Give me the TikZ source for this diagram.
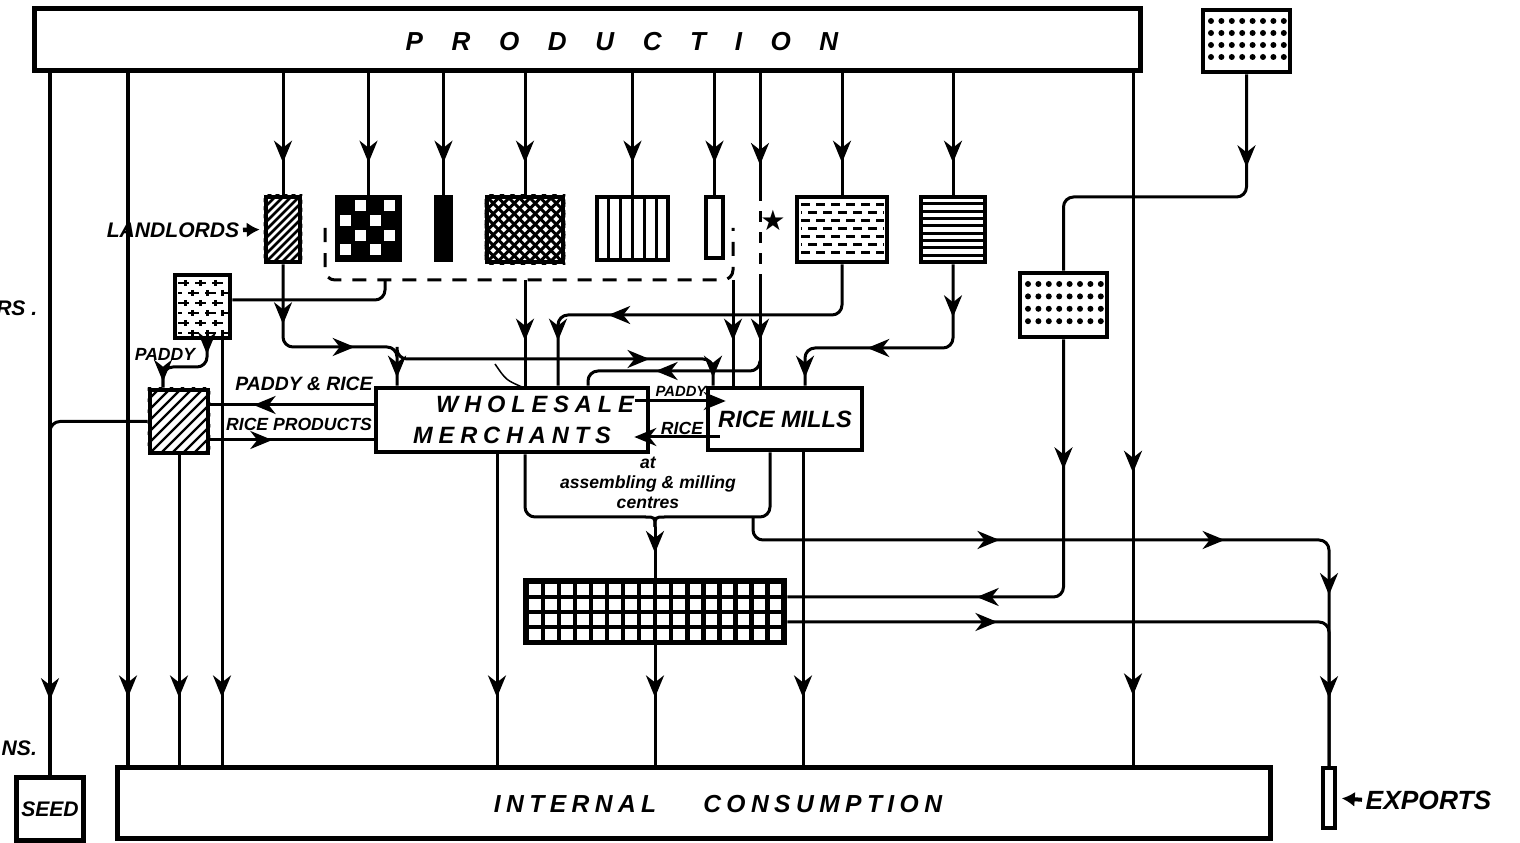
\documentclass[tikz,border=0pt]{standalone}
\usepackage{fontspec}
\setmainfont{Liberation Sans}
\newfontfamily\symfont{DejaVu Sans}
\usetikzlibrary{arrows.meta,decorations.markings,calc}

\tikzset{
	box/.style={draw, line width=0.45mm, rectangle, inner sep=0pt},
	flow/.style={line width=0.3mm},
	arrat/.style={postaction={decorate, decoration={markings, mark=at position #1 with {\arrow{>}}}}},
	lab/.style={inner sep=0pt, font=\bfseries\itshape\fontsize{#1}{#1}\selectfont},
	>={Stealth[length=2.2mm, width=1.8mm, inset=0.7mm]},
}

\begin{document}
\begin{tikzpicture}[x=0.01cm, y=-0.01cm]
		\path[use as bounding box, fill=white] (0,0) rectangle (1520,843);
		
		% Main bars
		\node[box, line width=0.5mm, minimum width=110.5mm, minimum height=6.1mm] (prod) at (587.5,39.5) {};
		\node[lab=7.4] (prodtxt) at (622,42) {\addfontfeature{LetterSpace=110}PRODUCTION};
		\node[box, line width=0.5mm, minimum width=115.2mm, minimum height=7mm] (cons) at (694,803) {};
		\node[lab=7] (constxt) at (718,804) {\addfontfeature{LetterSpace=22}INTERNAL\hspace{4.7mm}CONSUMPTION};
		\node[box, lab=6, minimum width=6.7mm, minimum height=6.3mm] (seed) at (50,809) {SEED};
		\node[box, line width=0.35mm, minimum width=1.2mm, minimum height=6mm] (exp) at (1329,798) {};
		\node[lab=7.5, anchor=west] (exptxt) at (1365,800) {EXPORTS};
		
		% Holders of the crop
		\node[box, minimum width=8.7mm, minimum height=6.2mm] (topdot) at (1246.5,41) {};
		\node[box, minimum width=3.4mm, minimum height=6.5mm] (land) at (283,229.5) {};
		\node[box, fill=black, minimum width=6.3mm, minimum height=6.3mm] (chk) at (368.5,228.5) {};
		\node[box, fill=black, minimum width=1.5mm, minimum height=6.3mm] (bar) at (443.5,228.5) {};
		\node[box, minimum width=7.6mm, minimum height=6.5mm] (cross) at (525,229.5) {};
		\node[box, minimum width=7.1mm, minimum height=6.3mm] (vert) at (632.5,228.5) {};
		\node[box, minimum width=1.7mm, minimum height=6.1mm] (narrow) at (714.5,227.5) {};
		\node[box, minimum width=9mm, minimum height=6.5mm] (dash) at (842,229.5) {};
		\node[box, minimum width=6.4mm, minimum height=6.5mm] (horiz) at (953,229.5) {};
		\node[box, minimum width=5.5mm, minimum height=6.3mm] (brick) at (202.5,306.5) {};
		\node[box, minimum width=8.7mm, minimum height=6.4mm] (dots2) at (1063.5,305) {};
		\node[box, minimum width=5.8mm, minimum height=6.3mm] (hatch) at (179,421.5) {};
		\node[font=\symfont\fontsize{8}{8}\selectfont, inner sep=0pt] (star) at (773,220) {★};
		
		% Trade boxes
		\node[box, minimum width=27.2mm, minimum height=6.4mm, align=center,
			font=\bfseries\itshape\fontsize{6.7}{8.8}\selectfont\addfontfeature{LetterSpace=25}] (wm) at (512,420) {\hspace*{4.6mm}WHOLESALE\\MERCHANTS};
		\node[box, lab=6.7, minimum width=15.4mm, minimum height=6.2mm] (mills) at (785,419) {RICE MILLS};
		\node[box, fill=black, minimum width=26mm, minimum height=6.3mm] (grid) at (655,611.5) {};
		
		% Labels
		\node[lab=6, anchor=east] (ll) at (240,230) {LANDLORDS};
		\node[lab=5.5] (lpr) at (304,384) {PADDY \& RICE};
		\node[lab=5] (lrp) at (299,424) {RICE PRODUCTS};
		\node[lab=5] (lpad) at (165,354) {PADDY};
		\node[lab=4.2] (mpad) at (681,391) {PADDY};
		\node[lab=5] (mrice) at (682,428) {RICE};
		\node[inner sep=0pt, align=center, font=\bfseries\itshape\fontsize{5}{5.7}\selectfont] (cent) at (648,483) {at\\assembling \& milling\\centres};
		\node[lab=6, anchor=east] (lrs) at (38,308) {RS .};
		\node[lab=6, anchor=west] (lns) at (1,748) {NS.};
		\draw[line width=0.45mm, -{Latex[length=1.3mm,width=1.5mm]}, shorten <=0.3mm, shorten >=0.4mm] (ll.east) -- (land.west);
		\draw[line width=0.4mm, -{Latex[length=1.3mm,width=1.5mm]}, shorten <=0.3mm, shorten >=0.5mm] (exptxt.west) -- (exp.east);
		
		% Fillings
		\begin{scope}
			\clip (land.south west) rectangle (land.north east);
			\foreach \i in {-9,...,5} \draw[line width=0.25mm] (266+\i*8,262) -- ++(70,-70);
		\end{scope}
		\foreach \r in {0,...,3} \foreach \c in {0,...,3} {
			\pgfmathtruncatemacro{\chkodd}{mod(\r+\c,2)}
			\ifnum\chkodd=1 \fill[white] (340+\c*14.8,200+\r*14.8) rectangle ++(11,11); \fi
		}
		\begin{scope}
			\clip (cross.south west) rectangle (cross.north east);
			\foreach \i in {-8,...,9} {
				\draw[line width=0.3mm] (487+\i*10.5,262) -- ++(80,-80);
				\draw[line width=0.3mm] (487+\i*10.5,197) -- ++(80,80);
			}
		\end{scope}
		\foreach \i in {1,...,5} \draw[line width=0.3mm] (597+\i*11.8,197) -- (597+\i*11.8,260);
		\foreach \j in {0,...,6} {
			\pgfmathsetmacro{\ph}{mod(\j,2)*0.8}
			\draw[line width=0.3mm, dash pattern=on 0.9mm off 0.6mm, dash phase=\ph mm] (801,205+\j*8) -- (884,205+\j*8);
		}
		\foreach \j in {0,...,7} \draw[line width=0.3mm] (921,204+\j*7.3) -- (985,204+\j*7.3);
		\foreach \j in {0,...,3} \foreach \i in {0,...,7} {
			\fill (1211+\i*10.4,21+\j*12) circle (0.3mm);
			\fill (1028+\i*10.4,284+\j*12.4) circle (0.3mm);
		}
		\foreach \j in {0,...,5} {
			\pgfmathsetmacro{\ph}{mod(\j,2)*0.7}
			\pgfmathsetmacro{\tk}{mod(\j,2)*7}
			\draw[line width=0.25mm, dash pattern=on 1.1mm off 0.6mm, dash phase=\ph mm] (178,283+\j*10) -- (228,283+\j*10);
			\foreach \i in {0,1,2} \draw[line width=0.3mm] (185+\i*15+\tk,280+\j*10) -- ++(0,6);
		}
		\begin{scope}
			\clip (hatch.south west) rectangle (hatch.north east);
			\foreach \i in {-6,...,6} \draw[line width=0.22mm] (150+\i*11,453) -- ++(70,-70);
		\end{scope}
		\foreach \r in {0,...,3} \foreach \c in {0,...,15} \fill[white] (529+\c*16.05,584+\r*14.9) rectangle ++(11.5,11);
		
		% Production to holders
		\foreach \n in {land,chk,bar,cross,vert,narrow,dash,horiz}
			\draw[flow, arrat=-3.2mm] (prod.south -| \n.north) -- (\n.north);
		\draw[flow, arrat=-7.5mm] (prod.south -| seed.north) -- (seed.north);
		\draw[flow, arrat=-6.8mm] (prod.south -| 128,0) -- (cons.north -| 128,0);
		\draw[flow, arrat=40mm, arrat=-7mm] (prod.south -| 1133,0) -- (cons.north -| 1133,0);
		
		% Line past the star
		\coordinate (brk1) at (760,190);
		\coordinate (brk2) at (760,282);
		\coordinate (brk3) at (760,361);
		\draw[flow, arrat=-2.5mm] (prod.south -| brk1) -- (brk1);
		\draw[flow, dashed] (brk1) -- (brk2);
		\draw[flow, arrat=-4.5mm] (brk2) -- (mills.north -| brk2);
		\draw[flow, rounded corners=1mm, arrat=11mm] (brk3) -- (760,371) -- (588,371) -- (wm.north -| 588,0);
		
		% Dashed group
		\coordinate (encA) at (385,280);
		\coordinate (encB) at (525,280);
		\coordinate (encC) at (733,280);
		\draw[flow, dash pattern=on 1.4mm off 1.1mm, rounded corners=1mm] (325,228) -- (325,280) -- (733,280) -- (733,228);
		\draw[flow, rounded corners=1mm] (encA) -- (385,300) -- (brick.east |- 0,300);
		\draw[flow, arrat=-4.5mm] (encB) -- (wm.north -| encB);
		\draw[flow, arrat=-4.5mm] (encC) -- (mills.north -| encC);
		
		% Landlords to merchants and mills
		\coordinate (lbr) at (397,347);
		\draw[flow, rounded corners=1mm, arrat=6mm, arrat=15mm, arrat=-0.8mm] (land.south) -- (283,347) -- (397,347) -- (wm.north -| 397,0);
		\draw[flow, rounded corners=1mm, arrat=26mm, arrat=-0.8mm] (lbr) -- (397,359) -- (713,359) -- (mills.north -| 713,0);
		
		% Other holders to merchants and mills
		\draw[flow, rounded corners=1mm, arrat=28mm, arrat=-4.5mm] (dash.south) -- (842,315) -- (558,315) -- (wm.north -| 558,0);
		\draw[flow, rounded corners=1mm, arrat=5.3mm, arrat=16.5mm, arrat=-0.8mm] (horiz.south) -- (953,348) -- (805,348) -- (mills.north -| 805,0);
		\draw[flow, rounded corners=1mm, arrat=9.3mm] (topdot.south) -- (1246.5,197) -- (1063.5,197) -- (dots2.north);
		\draw[flow, rounded corners=1mm, arrat=13mm, arrat=34mm] (dots2.south) -- (1063.5,597) -- (grid.east |- 0,597);
		\draw[line width=0.15mm] (495,364) .. controls (506,380) .. (522,387);
		
		% Left side
		\coordinate (sj) at (50,470);
		\draw[flow, rounded corners=1mm] (hatch.west) -- (sj |- hatch.west) -- (sj);
		\draw[flow, rounded corners=1mm, arrat=1.4mm, arrat=-0.6mm] (brick.south -| 207,0) -- (207,367) -- (163,367) -- (hatch.north -| 163,0);
		\draw[flow, arrat=12mm] (wm.west |- 0,405) -- (hatch.east |- 0,405);
		\draw[flow, arrat=6.2mm] (hatch.east |- 0,440) -- (wm.west |- 0,440);
		
		% Merchants and mills
		\draw[flow, ->] ($(wm.east |- 0,401)+(-15,0)$) -- ($(mills.west |- 0,401)+(20,0)$);
		\draw[flow, ->] ($(mills.west |- 0,437)+(14,0)$) -- ($(wm.east |- 0,437)+(-16,0)$);
		
		% Assembling centres bracket
		\coordinate (brL) at (645,517);
		\coordinate (brR) at (665,517);
		\coordinate (brM) at (655,527);
		\coordinate (mx) at (753,517);
		\draw[flow, rounded corners=1mm] (wm.south -| 525,0) -- (525,517) -- (brL);
		\draw[flow, rounded corners=1mm] (mills.south -| 770,0) -- (770,517) -- (brR);
		\draw[flow] (brL) .. controls (655,517) .. (brM);
		\draw[flow] (brR) .. controls (655,517) .. (brM);
		\draw[flow, arrat=2.6mm] (brM) -- (grid.north);
		
		% To exports
		\draw[flow, rounded corners=1mm, arrat=21mm] (grid.east |- 0,622) -- (1329,622) -- (exp.north);
		\draw[flow, rounded corners=1mm, arrat=26.5mm, arrat=49mm, arrat=64.5mm, arrat=-6.8mm] (mx) -- (753,540) -- (1329,540) -- (exp.north);
		
		% Down to consumption
		\draw[flow, arrat=-6.8mm] (wm.south -| 497,0) -- (cons.north -| 497,0);
		\draw[flow, arrat=-6.8mm] (grid.south) -- (cons.north -| grid.south);
		\draw[flow, arrat=-6.8mm] (mills.south -| 803,0) -- (cons.north -| 803,0);
		\draw[flow, arrat=-6.8mm] (hatch.south) -- (cons.north -| hatch.south);
		\draw[flow, arrat=-6.8mm] (brick.south -| 222,0) -- (cons.north -| 222,0);
	\end{tikzpicture}
\end{document}
